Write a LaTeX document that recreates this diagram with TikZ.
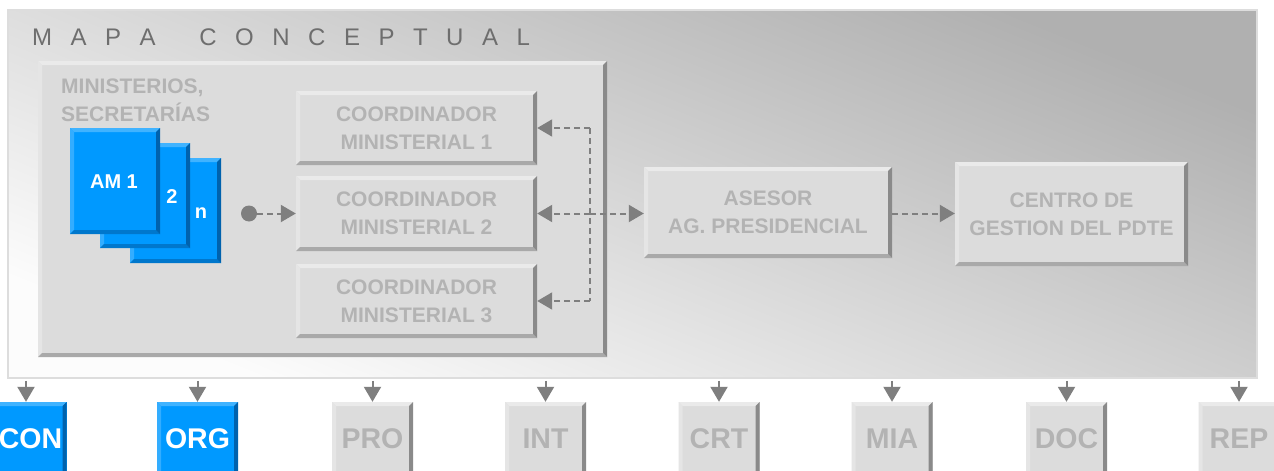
\documentclass[tikz,border=0pt]{standalone}
\usepackage{fontspec}
\setmainfont{Liberation Sans}
\usetikzlibrary{arrows.meta}

\definecolor{face}{HTML}{DCDCDC}
\definecolor{bvTop}{HTML}{EAEAEA}
\definecolor{bvLeft}{HTML}{E5E5E5}
\definecolor{bvRight}{HTML}{8A8A8A}
\definecolor{bvBot}{HTML}{A9A9A9}
\definecolor{blueFace}{HTML}{0099FF}
\definecolor{blueTop}{HTML}{40B3FF}
\definecolor{blueLeft}{HTML}{33ADFF}
\definecolor{blueRight}{HTML}{0062AD}
\definecolor{blueBot}{HTML}{0077CC}
\definecolor{txtGray}{HTML}{B3B3B3}
\definecolor{lineGray}{HTML}{7F7F7F}
\definecolor{titleGray}{HTML}{6E6E6E}
\definecolor{panelDark}{HTML}{B0B0B0}
\definecolor{panelLight}{HTML}{FCFCFC}
\definecolor{panelEdge}{HTML}{DDDDDD}

\newcommand\trk{\hspace{18.5pt}}

\tikzset{
  bevel/.style n args={6}{fill=#1, draw=none, inner sep=0pt, path picture={
    \fill[#2] (path picture bounding box.north west) -- (path picture bounding box.north east)
      -- ([xshift=-#6,yshift=-#6]path picture bounding box.north east)
      -- ([xshift=#6,yshift=-#6]path picture bounding box.north west) -- cycle;
    \fill[#3] (path picture bounding box.north west) -- ([xshift=#6,yshift=-#6]path picture bounding box.north west)
      -- ([xshift=#6,yshift=#6]path picture bounding box.south west)
      -- (path picture bounding box.south west) -- cycle;
    \fill[#5] (path picture bounding box.south west) -- (path picture bounding box.south east)
      -- ([xshift=-#6,yshift=#6]path picture bounding box.south east)
      -- ([xshift=#6,yshift=#6]path picture bounding box.south west) -- cycle;
    \fill[#4] (path picture bounding box.north east) -- (path picture bounding box.south east)
      -- ([xshift=-#6,yshift=#6]path picture bounding box.south east)
      -- ([xshift=-#6,yshift=-#6]path picture bounding box.north east) -- cycle;
  }},
  graybox/.style={bevel={face}{bvTop}{bvLeft}{bvRight}{bvBot}{4pt}, text=txtGray,
    font=\bfseries\fontsize{21}{28}\selectfont, align=center},
  bluebox/.style={bevel={blueFace}{blueTop}{blueLeft}{blueRight}{blueBot}{4pt},
    minimum width=90pt, minimum height=106pt},
  amtext/.style={text=white, font=\bfseries\fontsize{20}{24}\selectfont, inner sep=0pt},
  botgray/.style={bevel={face}{bvTop}{bvLeft}{bvRight}{bvBot}{4pt}, text=txtGray,
    minimum width=81pt, minimum height=74pt, font=\bfseries\fontsize{28.5}{30}\selectfont},
  botblue/.style={bevel={blueFace}{blueTop}{blueLeft}{blueRight}{blueBot}{4pt}, text=white,
    minimum width=81pt, minimum height=74pt, font=\bfseries\fontsize{28.5}{30}\selectfont},
  dashline/.style={draw=lineGray, line width=2pt, dash pattern=on 6pt off 4pt},
  dasharrow/.style={dashline, -{Triangle[length=15pt,width=17pt]}},
  downarrow/.style={draw=lineGray, line width=2pt, -{Triangle[length=15pt,width=17pt]}},
}

\begin{document}
\begin{tikzpicture}[x=1pt,y=-1pt]
\useasboundingbox (0,0) rectangle (1274,471);
\begin{scope}
\clip (0,0) rectangle (1274,471);
\fill[white] (0,0) rectangle (1274,471);

% outer panel
\node[top color=panelDark, bottom color=panelLight, shading angle=-22, draw=panelEdge,
  line width=1.5pt, minimum width=1249pt, minimum height=368pt, inner sep=0pt]
  (panel) at (632.5,194) {};

% title
\node[anchor=base west, inner sep=0pt, text=titleGray, font=\fontsize{24}{24}\selectfont]
  (title) at (32,45) {M\trk A\trk P\trk A\trk\hspace{25.2pt}C\trk O\trk N\trk C\trk E\trk P\trk T\trk U\trk A\trk L};

% inner box ministries
\node[graybox, minimum width=569pt, minimum height=296pt] (min) at (322.5,209) {};
\node[anchor=west, inner sep=0pt, align=left, text=txtGray,
  font=\bfseries\fontsize{21}{28}\selectfont] (mintext) at (61,100) {MINISTERIOS,\\SECRETARÍAS};

% AM boxes
\node[bluebox, minimum width=91pt, minimum height=105pt] (amn) at (175.5,210.5) {};
\node[bluebox, minimum width=90pt, minimum height=105pt] (am2) at (145,195.5) {};
\node[bluebox, minimum width=90pt, minimum height=106pt] (am1) at (115,181) {};
\node[amtext] (am1t) at (114,182) {AM 1};
\node[amtext] (am2t) at (172,197) {2};
\node[amtext] (amnt) at (201,213) {n};

% coordinators
\node[graybox, minimum width=241pt, minimum height=74pt] (cm1) at (416.5,128) {COORDINADOR\\MINISTERIAL 1};
\node[graybox, minimum width=241pt, minimum height=75pt] (cm2) at (416.5,213.5) {COORDINADOR\\MINISTERIAL 2};
\node[graybox, minimum width=241pt, minimum height=74pt] (cm3) at (416.5,301) {COORDINADOR\\MINISTERIAL 3};

% asesor and centro
\node[graybox, minimum width=248pt, minimum height=91pt] (ase) at (768,212.5) {ASESOR\\AG. PRESIDENCIAL};
\node[graybox, minimum width=233pt, minimum height=104pt] (cen) at (1071.5,214) {CENTRO DE\\GESTION DEL PDTE};

% dot and connectors
\node[circle, fill=lineGray, minimum size=16pt, inner sep=0pt] (dot) at (249,213.5) {};
\draw[dasharrow] (dot.east) -- (cm2.west);

\coordinate (jt) at (590,128);
\coordinate (jm) at (590,213.5);
\coordinate (jb) at (590,301);
\draw[dashline] (jt) -- (jb);
\draw[dasharrow] (jt) -- (cm1.east);
\draw[dasharrow] (jm) -- (cm2.east);
\draw[dasharrow] (jb) -- (cm3.east);
\draw[dasharrow] (jm) -- (jm -| ase.west);
\draw[dasharrow] (ase.east |- jm) -- (jm -| cen.west);

% bottom row
\node[botblue] (con) at (26,439) {\hspace*{9pt}CON};
\node[botblue] (org) at (197.5,439) {ORG};
\node[botgray] (pro) at (372.5,439) {PRO};
\node[botgray] (int) at (545.5,439) {INT};
\node[botgray] (crt) at (719,439) {CRT};
\node[botgray] (mia) at (892,439) {MIA};
\node[botgray] (doc) at (1066.5,439) {DOC};
\node[botgray] (rep) at (1239,439) {REP};

\foreach \b in {con,org,pro,int,crt,mia,doc,rep}{
  \draw[downarrow] ([yshift=-2pt]panel.south -| \b.north) -- (\b.north);
}
\end{scope}
\end{tikzpicture}
\end{document}
